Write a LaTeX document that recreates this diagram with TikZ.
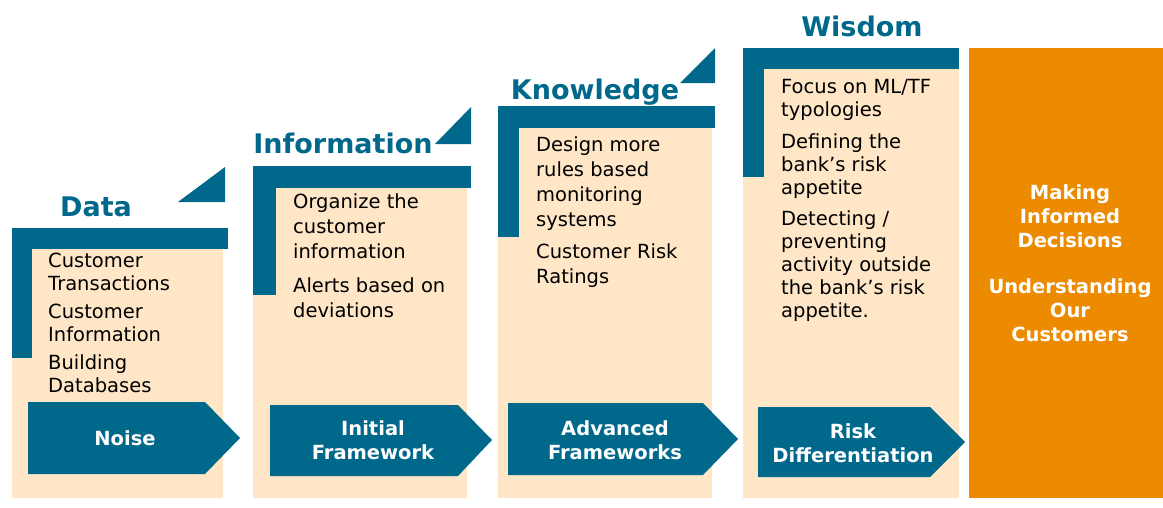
\documentclass[tikz,border=0pt]{standalone}
\usepackage{fontspec}
\setmainfont{DejaVu Sans}
\definecolor{stepblue}{RGB}{0,104,139}
\definecolor{panelbeige}{RGB}{254,230,199}
\definecolor{goalorange}{RGB}{236,138,0}
\tikzset{
  item/.style={anchor=base west, align=left, inner sep=0pt, font=\fontsize{19.5}{23}\selectfont},
  wideitem/.style={item, font=\fontsize{19.5}{25}\selectfont},
  title/.style={anchor=base, inner sep=0pt, text=stepblue, font=\fontsize{27}{30}\selectfont\bfseries},
  tag/.style={align=center, inner sep=0pt, text=white, font=\fontsize{19.5}{24}\selectfont\bfseries},
}
\begin{document}
\begin{tikzpicture}[x=1pt,y=-1pt]
\useasboundingbox (0,0) rectangle (1163,507);
% Data
\fill[panelbeige] (12,228) rectangle (223,498);
\fill[stepblue] (12,228) rectangle (228,249);
\fill[stepblue] (12,228) rectangle (32,358);
\fill[stepblue] (225,167) -- (225,202) -- (178,202) -- cycle;
\node[title] (data) at (96,216) {Data};
\node[item] (data1) at (48,290) {Customer\\Transactions};
\node[item] (data2) at (48,341) {Customer\\Information};
\node[item] (data3) at (48,392) {Building\\Databases};
\fill[stepblue] (28,402) -- (205,402) -- (240,438) -- (205,474) -- (28,474) -- cycle;
\node[tag] (noise) at (125,438) {Noise};
% Information
\fill[panelbeige] (253,166) rectangle (467,498);
\fill[stepblue] (253,166) rectangle (471,188);
\fill[stepblue] (253,166) rectangle (276,295);
\fill[stepblue] (471,107) -- (471,144) -- (435,144) -- cycle;
\node[title] (info) at (343,153) {Information};
\node[wideitem] (info1) at (293,258) {Organize the\\customer\\information};
\node[wideitem] (info2) at (293,317) {Alerts based on\\deviations};
\fill[stepblue] (270,405) -- (458,405) -- (492,440) -- (458,476) -- (270,476) -- cycle;
\node[tag] (initial) at (373,440) {Initial\\Framework};
% Knowledge
\fill[panelbeige] (498,106) rectangle (712,498);
\fill[stepblue] (498,106) rectangle (715,128);
\fill[stepblue] (498,106) rectangle (519,237);
\fill[stepblue] (715,48) -- (715,83) -- (680,83) -- cycle;
\node[title] (know) at (595,99) {Knowledge};
\node[wideitem] (know1) at (536,226) {Design more\\rules based\\monitoring\\systems};
\node[wideitem] (know2) at (536,283) {Customer Risk\\Ratings};
\fill[stepblue] (508,403) -- (703,403) -- (738,439) -- (703,475) -- (508,475) -- cycle;
\node[tag] (advanced) at (615,440) {Advanced\\Frameworks};
% Wisdom
\fill[panelbeige] (743,48) rectangle (959,498);
\fill[stepblue] (743,48) rectangle (959,69);
\fill[stepblue] (743,48) rectangle (764,177);
\node[title] (wisdom) at (862,36) {Wisdom};
\node[item] (wis1) at (781,116) {Focus on ML/TF\\typologies};
\node[item] (wis2) at (781,194) {Defining the\\bank’s risk\\appetite};
\node[item] (wis3) at (781,317) {Detecting /\\preventing\\activity outside\\the bank’s risk\\appetite.};
\fill[stepblue] (758,407) -- (930,407) -- (965,442) -- (930,477) -- (758,477) -- cycle;
\node[tag] (risk) at (853,443) {Risk\\Differentiation};
% Goal
\fill[goalorange] (969,48) rectangle (1163,498);
\node[tag] (goal) at (1070,263) {Making\\Informed\\Decisions\\[22pt]Understanding\\Our\\Customers};
\end{tikzpicture}
\end{document}
